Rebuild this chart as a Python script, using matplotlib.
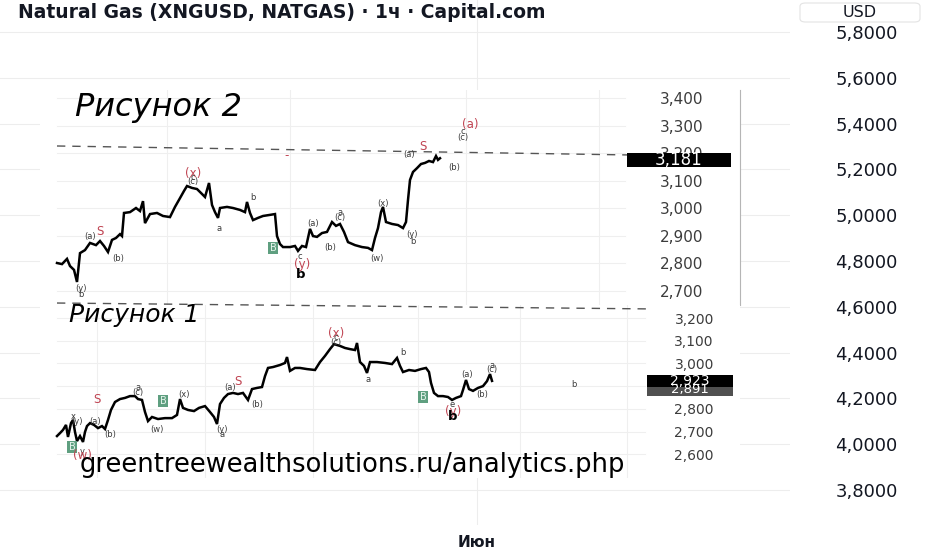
import matplotlib
matplotlib.use("Agg")
import matplotlib.pyplot as plt
from matplotlib.patches import Rectangle, FancyBboxPatch
from matplotlib.transforms import blended_transform_factory
from matplotlib.ticker import FuncFormatter

W, H = 932, 550

# ------------------------------------------------------------
# Data
# ------------------------------------------------------------
TITLE = "Natural Gas (XNGUSD, NATGAS) · 1ч · Capital.com"
WATERMARK = "greentreewealthsolutions.ru/analytics.php"

main_ticks = [3.8, 4.0, 4.2, 4.4, 4.6, 4.8, 5.0, 5.2, 5.4, 5.6, 5.8]
month_pos = [477]
month_labels = ["Июн"]

# Рисунок 2 (hour index, price)
fig2_x = [0, 5, 10, 13, 17, 20, 23, 28, 33, 39, 43, 47, 51, 55, 59, 63, 65, 67,
          73, 79, 83, 86, 88, 93, 100, 106, 113, 118, 123, 127, 130, 135, 140,
          145, 148, 152, 155, 158, 161, 163, 170, 176, 183, 188, 190, 193, 196,
          201, 206, 213, 218, 220, 223, 226, 233, 238, 241, 245, 249, 253, 256,
          260, 265, 270, 275, 279, 283, 287, 291, 298, 305, 311, 315, 318, 321,
          324, 326, 329, 335, 341, 346, 349, 351, 353, 356, 360, 364, 368, 372,
          376, 379, 381, 383]
fig2_p = [2.800, 2.796, 2.815, 2.789, 2.775, 2.731, 2.836, 2.847, 2.873, 2.865,
          2.880, 2.862, 2.840, 2.884, 2.891, 2.905, 2.898, 2.982, 2.985, 3.000,
          2.989, 3.025, 2.945, 2.978, 2.982, 2.971, 2.967, 3.004, 3.036, 3.062,
          3.080, 3.073, 3.069, 3.051, 3.040, 3.091, 3.011, 2.985, 2.964, 3.000,
          3.004, 3.000, 2.993, 2.985, 3.022, 2.982, 2.956, 2.964, 2.971, 2.975,
          2.978, 2.898, 2.869, 2.858, 2.858, 2.862, 2.844, 2.862, 2.858, 2.924,
          2.898, 2.895, 2.909, 2.913, 2.949, 2.935, 2.942, 2.913, 2.876, 2.865,
          2.858, 2.855, 2.847, 2.891, 2.927, 2.985, 3.004, 2.949, 2.942, 2.938,
          2.927, 2.949, 3.029, 3.102, 3.131, 3.145, 3.160, 3.164, 3.171, 3.167,
          3.189, 3.175, 3.181]
fig2_ticks = [2.7, 2.8, 2.9, 3.0, 3.1, 3.2, 3.3, 3.4]
fig2_vgrid = [110, 233, 409, 542]
fig2_trend_x = [0, 570]
fig2_trend_p = [3.2255, 3.193]
fig2_labels = [
    (24, 2.709, "(y)", "k"), (24, 2.687, "b", "k"),
    (33, 2.895, "(a)", "k"), (43, 2.916, "S", "r"), (61, 2.815, "(b)", "k"),
    (136, 3.127, "(x)", "r"), (136, 3.112, "c", "k"), (136, 3.098, "(c)", "k"),
    (162, 2.927, "a", "k"), (196, 3.040, "b", "k"), (216, 2.855, "B", "g"),
    (243, 2.822, "c", "k"), (245, 2.793, "(y)", "r"), (244, 2.760, "b", "kb"),
    (256, 2.945, "(a)", "k"), (273, 2.858, "(b)", "k"),
    (283, 2.985, "a", "k"), (283, 2.967, "(c)", "k"),
    (320, 2.818, "(w)", "k"), (326, 3.018, "(x)", "k"),
    (355, 2.902, "(y)", "k"), (356, 2.880, "b", "k"),
    (352, 3.193, "(a)", "k"), (366, 3.225, "S", "r"), (397, 3.149, "(b)", "k"),
    (413, 3.305, "(a)", "r"), (406, 3.280, "c", "k"), (406, 3.258, "(c)", "k"),
    (230, 3.189, "-", "r"),
]

# Рисунок 1 (hour index, price)
fig1_x = [0, 3, 6, 9, 11, 14, 16, 18, 20, 23, 26, 28, 30, 33, 37, 41, 45, 48,
          51, 54, 58, 63, 68, 73, 78, 81, 85, 88, 91, 95, 101, 108, 115, 120,
          123, 126, 131, 137, 142, 148, 153, 157, 160, 163, 167, 171, 176, 181,
          186, 191, 195, 200, 205, 208, 211, 216, 223, 228, 230, 233, 238, 243,
          250, 258, 263, 268, 273, 277, 283, 288, 293, 298, 300, 303, 307, 310,
          313, 320, 328, 335, 340, 343, 346, 352, 358, 364, 369, 372, 374, 377,
          381, 386, 391, 395, 399, 404, 406, 409, 412, 416, 421, 426, 430, 433,
          435]
fig1_p = [2.680, 2.693, 2.707, 2.729, 2.676, 2.737, 2.751, 2.698, 2.658, 2.680,
          2.654, 2.698, 2.724, 2.737, 2.729, 2.715, 2.724, 2.711, 2.751, 2.795,
          2.830, 2.843, 2.848, 2.856, 2.856, 2.843, 2.839, 2.786, 2.746, 2.764,
          2.755, 2.759, 2.759, 2.773, 2.843, 2.804, 2.795, 2.790, 2.804, 2.812,
          2.786, 2.764, 2.733, 2.821, 2.848, 2.865, 2.870, 2.865, 2.870, 2.839,
          2.887, 2.892, 2.896, 2.944, 2.980, 2.984, 2.993, 3.002, 3.028, 2.967,
          2.980, 2.980, 2.975, 2.971, 3.006, 3.033, 3.063, 3.085, 3.077, 3.068,
          3.063, 3.059, 3.090, 3.006, 2.989, 2.958, 3.006, 3.006, 3.002, 2.997,
          3.024, 2.989, 2.962, 2.971, 2.967, 2.975, 2.980, 2.962, 2.914, 2.870,
          2.856, 2.856, 2.852, 2.839, 2.848, 2.856, 2.883, 2.927, 2.887, 2.879,
          2.892, 2.900, 2.922, 2.953, 2.923]
fig1_prev_close = 2.891
fig1_ticks = [2.6, 2.7, 2.8, 2.9, 3.0, 3.1, 3.2]
fig1_vgrid = [40, 148, 256, 361, 463, 570]
fig1_trend_x = [0, 593]
fig1_trend_p = [3.266, 3.240]
fig1_labels = [
    (16, 2.764, "x", "k"), (20, 2.746, "(y)", "k"), (38, 2.746, "(a)", "k"),
    (15, 2.632, "B", "g"), (25, 2.614, "y", "k"), (25, 2.596, "(w)", "r"),
    (40, 2.839, "S", "r"), (53, 2.689, "(b)", "k"),
    (81, 2.896, "a", "k"), (81, 2.870, "(c)", "k"),
    (106, 2.834, "B", "g"), (100, 2.707, "(w)", "k"), (127, 2.861, "(x)", "k"),
    (165, 2.707, "(y)", "k"), (165, 2.689, "a", "k"),
    (173, 2.896, "(a)", "k"), (181, 2.922, "S", "r"), (200, 2.817, "(b)", "k"),
    (279, 3.130, "(x)", "r"), (279, 3.112, "c", "k"), (279, 3.094, "(c)", "k"),
    (311, 2.927, "a", "k"), (346, 3.046, "b", "k"), (366, 2.852, "B", "g"),
    (395, 2.817, "e", "k"), (396, 2.790, "(y)", "r"), (396, 2.764, "b", "kb"),
    (410, 2.953, "(a)", "k"), (425, 2.861, "(b)", "k"),
    (435, 2.989, "a", "k"), (435, 2.971, "(c)", "k"),
    (517, 2.905, "b", "k"),
]

LABEL_STYLE = {
    "k": dict(fontsize=6, color="#3a3a3a"),
    "r": dict(fontsize=8.5, color="#c04452"),
    "kb": dict(fontsize=9.5, color="black", fontweight="bold"),
    "g": dict(fontsize=7, color="#e6f4ec",
              bbox=dict(boxstyle="square,pad=0.12", fc="#5f9f80", ec="none")),
}


def fx(px):
    return px / W


def fy(py):
    return 1 - py / H


def price_fmt(decimals):
    return FuncFormatter(lambda v, _: f"{v:.{decimals}f}".replace(".", ","))


def center_labels(axis):
    for lbl in axis.get_ticklabels():
        lbl.set_horizontalalignment("center")


def price_tag(a, value, x0, x1, height, fc, text_color="white", size=10, dy=0.0):
    tr = blended_transform_factory(a.transAxes, a.transData)
    a.add_patch(Rectangle((x0, value - height / 2 + dy), x1 - x0, height,
                          transform=tr, fc=fc, ec="none", zorder=6, clip_on=False))
    a.text((x0 + x1) / 2, value + dy, f"{value:.3f}".replace(".", ","), transform=tr,
           ha="center", va="center", color=text_color, fontsize=size,
           zorder=7, clip_on=False)


def draw_inset(rect, xs, ps, ticks, ylim, vgrid, grid_xmax, label_pad, labels,
               trend_x, trend_p, tick_size):
    a = fig.add_axes(rect)
    a.set_facecolor("white")
    a.set_xlim(-17, 683)
    a.set_ylim(*ylim)
    a.set_xticks([])
    a.set_yticks(ticks)
    a.yaxis.set_major_formatter(price_fmt(3))
    a.yaxis.tick_right()
    a.tick_params(axis="y", length=0, pad=label_pad, labelsize=tick_size,
                  labelcolor="#3c3c3c")
    center_labels(a.yaxis)
    for s in a.spines.values():
        s.set_visible(False)
    for v in ticks:
        a.axhline(v, xmin=17 / 700, xmax=grid_xmax, color="#efefef", lw=0.8, zorder=0)
    for xv in vgrid:
        a.axvline(xv, color="#efefef", lw=0.8, zorder=0)
    a.plot(xs, ps, color="black", lw=1.8, zorder=3, solid_joinstyle="miter")
    a.plot(trend_x, trend_p, color="#555555", lw=1.0, ls=(0, (6, 5)),
           zorder=2, clip_on=False)
    for x, p, t, st in labels:
        a.text(x, p, t, ha="center", va="center", zorder=4, **LABEL_STYLE[st])
    return a


# ------------------------------------------------------------
# Figure
# ------------------------------------------------------------
fig = plt.figure(figsize=(W / 100, H / 100), dpi=100)
fig.patch.set_facecolor("white")

ax = fig.add_axes([0, fy(525), fx(790), 525 / H])
ax.set_xlim(0, 790)
ax.set_ylim(3.647, 5.940)
ax.set_yticks(main_ticks)
ax.yaxis.set_major_formatter(price_fmt(4))
ax.yaxis.tick_right()
ax.tick_params(axis="y", length=0, pad=55, labelsize=13, labelcolor="#131722")
center_labels(ax.yaxis)
ax.set_xticks(month_pos)
ax.set_xticklabels(month_labels, fontweight="bold", fontsize=11, color="#131722")
ax.tick_params(axis="x", length=0, pad=7)
ax.grid(color="#ededed", lw=0.8)
for s in ax.spines.values():
    s.set_visible(False)

# Рисунок 2
a2 = draw_inset([fx(40), fy(305), fx(700), 215 / H], fig2_x, fig2_p, fig2_ticks,
                (2.6473, 3.4291), fig2_vgrid, 585 / 700, -42, fig2_labels,
                fig2_trend_x, fig2_trend_p, 11)
a2.spines["right"].set_visible(True)
a2.spines["right"].set_color("#b5b5b5")
a2.spines["right"].set_linewidth(0.8)
price_tag(a2, fig2_p[-1], 587 / 700, 691 / 700, 0.051, "black", size=12, dy=-0.008)

# Рисунок 1
a1 = draw_inset([fx(40), fy(478), fx(700), 173 / H], fig1_x, fig1_p, fig1_ticks,
                (2.4952, 3.2573), fig1_vgrid, 605 / 700, -33, fig1_labels,
                fig1_trend_x, fig1_trend_p, 10)
price_tag(a1, fig1_prev_close, 607 / 700, 693 / 700, 0.053, "#505050", size=9.5,
          dy=-0.008)
price_tag(a1, fig1_p[-1], 607 / 700, 693 / 700, 0.053, "black", size=10)

# titles and overlays
fig.text(fx(18), fy(12), TITLE, fontsize=13.5, fontweight="bold", color="#131722",
         va="center", ha="left")
fig.patches.append(FancyBboxPatch((fx(800), fy(22)), fx(120), 19 / H,
                                  boxstyle="round,pad=0,rounding_size=0.006",
                                  transform=fig.transFigure, fc="white",
                                  ec="#e3e3e3", lw=0.8))
fig.text(fx(860), fy(12.5), "USD", fontsize=11.5, color="#131722",
         ha="center", va="center")
fig.text(fx(75), fy(108), "Рисунок 2", fontsize=23, style="italic",
         color="black", ha="left", va="center")
fig.text(fx(69), fy(315), "Рисунок 1", fontsize=18, style="italic",
         color="black", ha="left", va="center")
fig.text(fx(80), fy(465), WATERMARK, fontsize=18.5, color="black",
         ha="left", va="center")

fig.savefig("out.png", dpi=100, facecolor="white")
